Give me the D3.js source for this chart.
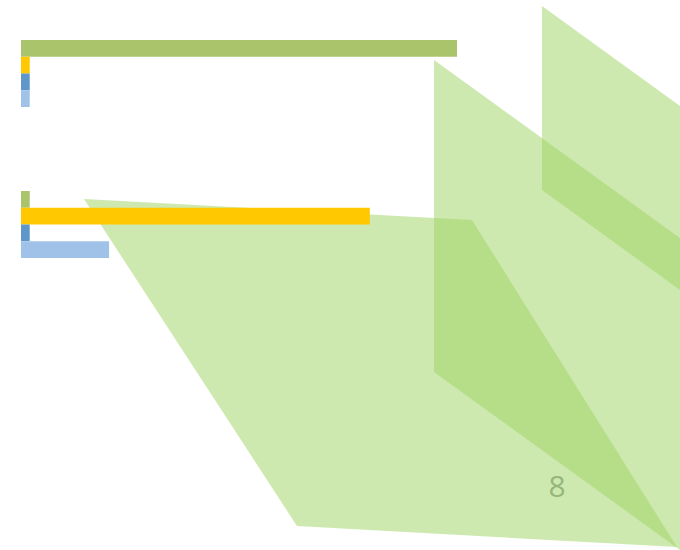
<!DOCTYPE html>
<html>
<head>
<meta charset="utf-8">
<script src="https://cdn.jsdelivr.net/npm/d3@7"></script>
<style>
  html, body { margin: 0; padding: 0; background: #ffffff; }
  svg { display: block; }
</style>
</head>
<body>
<svg id="chart" width="680" height="550"></svg>
<script>
// ---- data ----
const categories = ["Group 1", "Group 2"];
const seriesNames = ["S1", "S2", "S3", "S4"];
const seriesColors = ["#AAC46B", "#FFC800", "#5F97CB", "#A0C2E9"];
const values = [
  [100, 2, 2, 2],
  [2, 80, 2, 20.2]
];
const xMax = 100;
const labelText = "8";

// decorative translucent shapes (in page units)
const decorShapes = [
  [[84, 199], [472, 220], [677, 547], [297, 526]],
  [[434, 60], [680, 238], [680, 550], [434, 372]],
  [[542, 6], [680, 106], [680, 290], [542, 190]]
];

const svg = d3.select("#chart");
const W = 680, H = 550;

const x = d3.scaleLinear().domain([0, xMax]).range([21, 457]);
const y0 = d3.scaleBand().domain(categories).range([40, 258])
  .paddingInner(84 / 151).paddingOuter(0);
const y1 = d3.scaleBand().domain(seriesNames).range([0, y0.bandwidth()]).padding(0);

const line = d3.line().curve(d3.curveLinearClosed);

// shapes behind bars
svg.append("g").selectAll("path").data(decorShapes).join("path")
  .attr("d", d => line(d))
  .attr("fill", "#9DD361")
  .attr("fill-opacity", 0.5);

// bars
const g = svg.append("g");
categories.forEach((cat, ci) => {
  g.append("g").attr("transform", `translate(0,${y0(cat)})`)
    .selectAll("rect")
    .data(values[ci].map((v, si) => ({ v, s: seriesNames[si], c: seriesColors[si] })))
    .join("rect")
    .attr("x", x(0))
    .attr("y", d => y1(d.s))
    .attr("width", d => x(d.v) - x(0))
    .attr("height", y1.bandwidth())
    .attr("fill", d => d.c);
});

svg.append("text")
  .attr("x", 557).attr("y", 497)
  .attr("text-anchor", "middle")
  .attr("font-family", "Open Sans, sans-serif")
  .attr("font-size", 30)
  .attr("fill", "#96B67C")
  .text(labelText);
</script>
</body>
</html>
